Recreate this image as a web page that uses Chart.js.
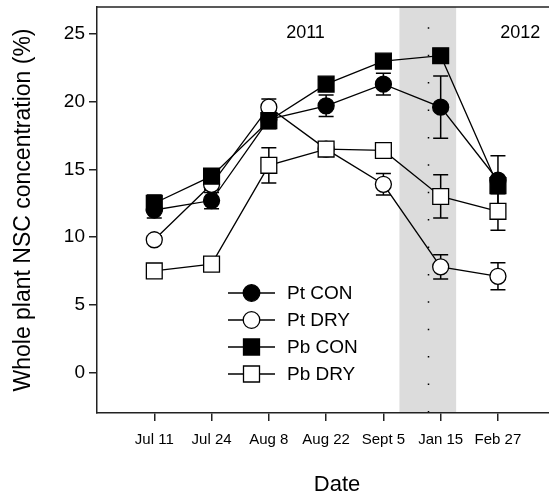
<!DOCTYPE html>
<html>
<head>
<meta charset="utf-8">
<script src="https://cdn.jsdelivr.net/npm/chart.js@4.4.1/dist/chart.umd.min.js"></script>
<style>
  html, body { margin: 0; padding: 0; background: #fff; overflow: hidden; }
  .grafico { display: block; }
</style>
</head>
<body>
<!-- el marco sigue a la derecha mas alla del borde visible -->
<canvas class="grafico" width="577" height="497"></canvas>
<script>
// fechas de muestreo (eje x)
const fechas = ['Jul 11', 'Jul 24', 'Aug 8', 'Aug 22', 'Sept 5', 'Jan 15', 'Feb 27'];

// NSC (%) y error estandar por tratamiento
const ptCon = [12.0, 12.7, 18.7, 19.7, 21.3, 19.6, 14.2];
const ptConSE = [0.6, 0.6, 0.5, 0.8, 0.8, 2.3, 1.8];
const ptDry = [9.8, 13.9, 19.6, 16.5, 13.9, 7.8, 7.1];
const ptDrySE = [0.3, 0.4, 0.6, 0.5, 0.8, 0.9, 1.0];
const pbCon = [12.5, 14.5, 18.6, 21.3, 23.0, 23.4, 13.8];
const pbConSE = [0.6, 0.4, 0.6, 0.3, 0.3, 0.3, 0.6];
const pbDry = [7.5, 8.0, 15.3, 16.5, 16.4, 13.0, 11.9];
const pbDrySE = [0.3, 0.3, 1.3, 0.5, 0.3, 1.6, 1.4];

const yTicks = [0, 5, 10, 15, 20, 25];
const anios = ['2011', '2012'];

const canvas = document.querySelector('.grafico');
const fuente = '"Liberation Sans", Arial, sans-serif';

// franja gris del invierno y años sobre el grafico (en unidades de eje)
const franja = { desde: 4.28, hasta: 5.27, corte: 4.78 };
const posAnios = [{ x: 2.64, y: 25.1 }, { x: 6.39, y: 25.1 }];

const serie = (label, data, se, style, fill, radius, order) => ({
    label,
    data: data.map((v, i) => ({ x: i, y: v })),
    se,
    order,
    borderColor: '#000',
    borderWidth: 1.3,
    pointStyle: style,
    pointRadius: radius,
    pointBackgroundColor: fill,
    pointBorderColor: '#000',
    pointBorderWidth: 1.3,
    fill: false,
    tension: 0
});

const datasets = [
    serie('Pt CON', ptCon, ptConSE, 'circle', '#000', 8, 3),
    serie('Pt DRY', ptDry, ptDrySE, 'circle', '#fff', 8, 2),
    serie('Pb CON', pbCon, pbConSE, 'rect', '#000', 11.2, 1),
    serie('Pb DRY', pbDry, pbDrySE, 'rect', '#fff', 11.2, 0)
];

const fondo = {
    id: 'fondo',
    beforeDraw(chart) {
        const { ctx, chartArea, scales: { x, y } } = chart;
        const x0 = x.getPixelForValue(franja.desde);
        const x1 = x.getPixelForValue(franja.hasta);
        ctx.save();
        ctx.fillStyle = '#dcdcdc';
        ctx.fillRect(x0, chartArea.top, x1 - x0, chartArea.bottom - chartArea.top);
        // linea punteada del corte entre años
        const xc = Math.round(x.getPixelForValue(franja.corte)) + 0.5;
        ctx.strokeStyle = '#000';
        ctx.lineWidth = 1.5;
        ctx.setLineDash([1.5, 25.9]);
        ctx.beginPath();
        ctx.moveTo(xc, y.getPixelForValue(25.5));
        ctx.lineTo(xc, chartArea.bottom);
        ctx.stroke();
        ctx.restore();
    },
    beforeDatasetsDraw(chart) {
        const { ctx, scales: { x, y } } = chart;
        ctx.save();
        ctx.strokeStyle = '#000';
        ctx.lineWidth = 1.5;
        chart.data.datasets.forEach((ds) => {
            ds.data.forEach((p, i) => {
                const px = x.getPixelForValue(p.x);
                const top = y.getPixelForValue(p.y + ds.se[i]);
                const bot = y.getPixelForValue(p.y - ds.se[i]);
                ctx.beginPath();
                ctx.moveTo(px, top);
                ctx.lineTo(px, bot);
                ctx.moveTo(px - 7.5, top);
                ctx.lineTo(px + 7.5, top);
                ctx.moveTo(px - 7.5, bot);
                ctx.lineTo(px + 7.5, bot);
                ctx.stroke();
            });
        });
        ctx.restore();
    },
    afterDraw(chart) {
        const { ctx, chartArea, scales: { x, y } } = chart;
        ctx.save();
        // borde superior del marco
        ctx.strokeStyle = '#222';
        ctx.lineWidth = 1.5;
        ctx.beginPath();
        ctx.moveTo(chartArea.left, chartArea.top);
        ctx.lineTo(chartArea.right, chartArea.top);
        ctx.stroke();

        ctx.fillStyle = '#000';
        ctx.font = '18px ' + fuente;
        ctx.textAlign = 'center';
        ctx.textBaseline = 'middle';
        anios.forEach((t, i) => {
            ctx.fillText(t, x.getPixelForValue(posAnios[i].x), y.getPixelForValue(posAnios[i].y));
        });

        // leyenda
        const lx = chartArea.left + 131;
        const ly = chartArea.top + 286;
        ctx.font = '19px ' + fuente;
        ctx.textAlign = 'left';
        chart.data.datasets.forEach((ds, i) => {
            const yy = ly + i * 27;
            ctx.lineWidth = 1.3;
            ctx.strokeStyle = '#000';
            ctx.beginPath();
            ctx.moveTo(lx, yy);
            ctx.lineTo(lx + 47, yy);
            ctx.stroke();
            ctx.fillStyle = ds.pointBackgroundColor;
            ctx.beginPath();
            if (ds.pointStyle === 'circle') {
                ctx.arc(lx + 23.5, yy, 8.3, 0, Math.PI * 2);
            } else {
                ctx.rect(lx + 23.5 - 8, yy - 8, 16, 16);
            }
            ctx.fill();
            ctx.stroke();
            ctx.fillStyle = '#000';
            ctx.fillText(ds.label, lx + 59, yy + 1);
        });
        ctx.restore();
    }
};

const config = {
    type: 'line',
    data: { datasets },
    options: {
        responsive: false,
        animation: false,
        layout: { autoPadding: false, padding: { top: 7, right: 0, left: 0, bottom: 0 } },
        plugins: { legend: { display: false }, tooltip: { enabled: false } },
        scales: {
            x: {
                type: 'linear',
                min: -1,
                max: 7.38,
                afterBuildTicks: (s) => { s.ticks = fechas.map((f, i) => ({ value: i })); },
                afterFit: (s) => { s.height = 84; s.paddingLeft = 0; s.paddingRight = 0; },
                ticks: {
                    callback: (v) => fechas[v],
                    autoSkip: false,
                    maxRotation: 0,
                    padding: 10,
                    color: '#000',
                    font: { family: fuente, size: 15 }
                },
                grid: { drawOnChartArea: false, drawTicks: true, tickLength: 8, color: '#222', lineWidth: 1.5 },
                border: { color: '#222', width: 1.5 },
                title: {
                    display: true,
                    text: 'Date',
                    color: '#000',
                    font: { family: fuente, size: 22, lineHeight: 1 },
                    padding: { top: 0, bottom: 1 }
                }
            },
            y: {
                min: -3,
                max: 27,
                afterBuildTicks: (s) => { s.ticks = yTicks.map((v) => ({ value: v })); },
                afterFit: (s) => { s.width = 97; s.paddingTop = 0; s.paddingBottom = 0; },
                ticks: {
                    padding: 4,
                    color: '#000',
                    font: { family: fuente, size: 19 }
                },
                grid: { drawOnChartArea: false, drawTicks: true, tickLength: 8, color: '#222', lineWidth: 1.5 },
                border: { color: '#222', width: 1.5 },
                title: {
                    display: true,
                    text: 'Whole plant NSC concentration (%)',
                    color: '#000',
                    font: { family: fuente, size: 23, lineHeight: 1 },
                    padding: { top: 12, bottom: 0 }
                }
            }
        }
    },
    plugins: [fondo]
};

const myChart = new Chart(canvas, config);
</script>
</body>
</html>
